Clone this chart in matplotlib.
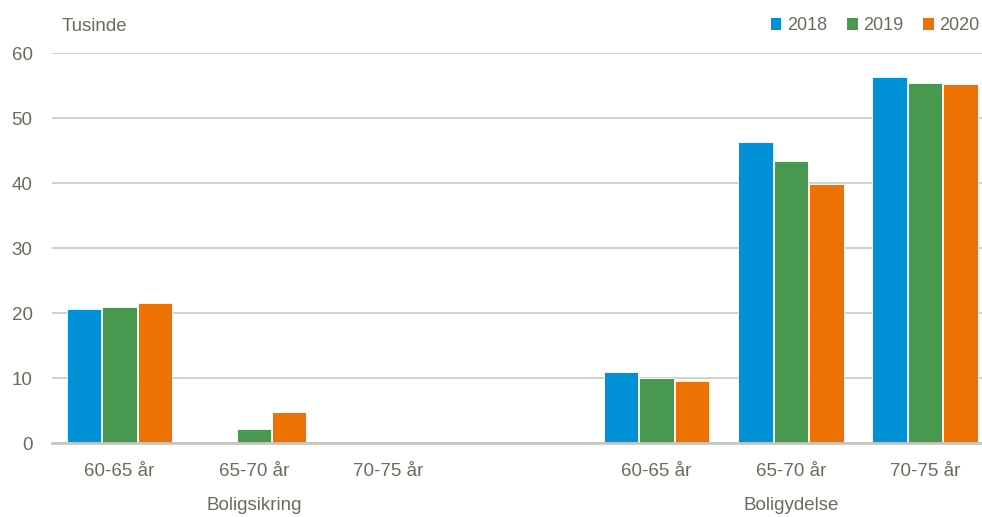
import numpy as np
import matplotlib
matplotlib.use("Agg")
import matplotlib.pyplot as plt
from matplotlib.patches import Patch
from matplotlib.transforms import blended_transform_factory

plt.rcParams['font.family'] = ['Liberation Sans', 'DejaVu Sans']

# Data
age_labels = ["60-65 år", "65-70 år", "70-75 år", "60-65 år", "65-70 år", "70-75 år"]
slot_pos = [0, 1, 2, 4, 5, 6]
groups = ["Boligsikring", "Boligydelse"]
group_pos = [1, 5]
years = ["2018", "2019", "2020"]
v2018 = [20.7, np.nan, np.nan, 10.9, 46.4, 56.4]
v2019 = [20.9, 2.25, np.nan, 10.1, 43.4, 55.5]
v2020 = [21.6, 4.8, np.nan, 9.6, 39.9, 55.3]
series = [v2018, v2019, v2020]
colors = ["#0091D6", "#48984F", "#EE7203"]
text_color = "#6B6B5D"

fig = plt.figure(figsize=(9.82, 5.17), dpi=100)
ax = fig.add_axes([52/982, 1-443.3/517, 930/982, (443.3-53.3)/517])

width = 0.257
offsets = [-0.264, 0.0, 0.264]
x = np.array(slot_pos, dtype=float)
for vals, col, off in zip(series, colors, offsets):
    ax.bar(x + off, vals, width=width, color=col, edgecolor="white", linewidth=0.6, zorder=3)

ax.set_ylim(0, 60)
ax.set_xlim(-0.503, 6.424)
ax.set_yticks(np.arange(0, 61, 10))
ax.set_xticks(slot_pos)
ax.set_xticklabels(age_labels)
ax.tick_params(axis='both', length=0, labelsize=13.5, colors=text_color)
ax.tick_params(axis='y', pad=14)
ax.tick_params(axis='x', pad=14)
ax.yaxis.grid(True, color="#C9C9C0", linewidth=1.2, zorder=0)
ax.set_axisbelow(True)
for s in ["top", "right", "left"]:
    ax.spines[s].set_visible(False)
ax.spines["bottom"].set_color("#C6C6BE")
ax.spines["bottom"].set_linewidth(2.0)
ax.spines["bottom"].set_zorder(4)

trans = blended_transform_factory(ax.transData, fig.transFigure)
for g, p in zip(groups, group_pos):
    ax.text(p, 1-506/517, g, transform=trans, ha="center", va="center",
            fontsize=13.5, color=text_color)

fig.text(62/982, 1-27/517, "Tusinde", ha="left", va="center", fontsize=13.5, color=text_color)

handles = [Patch(facecolor=c, edgecolor="none") for c in colors]
leg = fig.legend(handles, years, loc="upper right", bbox_to_anchor=(996/982, 1-1/517),
                 ncol=3, frameon=False, fontsize=13, handlelength=0.6, handleheight=0.6,
                 handletextpad=0.3, columnspacing=1.1, labelcolor=text_color)

fig.savefig("out.png", dpi=100, facecolor="white")
